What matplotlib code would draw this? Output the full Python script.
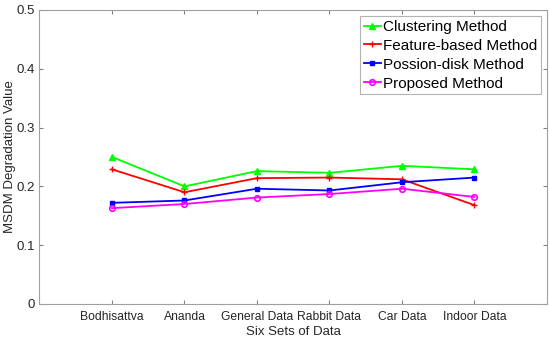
import numpy as np
import matplotlib
matplotlib.use('Agg')
import matplotlib.pyplot as plt

plt.rcParams['font.family'] = ['Liberation Sans', 'DejaVu Sans']

# data
datasets = ['Bodhisattva', 'Ananda', 'General Data', 'Rabbit Data', 'Car Data', 'Indoor Data']
clustering = [0.250, 0.200, 0.226, 0.223, 0.235, 0.229]
feature_based = [0.229, 0.190, 0.214, 0.215, 0.212, 0.168]
possion_disk = [0.172, 0.176, 0.196, 0.193, 0.207, 0.215]
proposed = [0.163, 0.170, 0.181, 0.187, 0.196, 0.182]

x = np.arange(1, len(datasets) + 1)

fig = plt.figure(figsize=(5.5, 3.4), dpi=100)
ax = fig.add_axes([0.0718, 0.106, 0.9227, 0.8646])

ax.plot(x, clustering, color='#00ff00', marker='^', markersize=5, linewidth=1.3, label='Clustering Method')
ax.plot(x, feature_based, color='#ff0000', marker='+', markersize=5, linewidth=1.3, label='Feature-based Method')
ax.plot(x, possion_disk, color='#0000ff', marker='s', markersize=3.5, linewidth=1.3, label='Possion-disk Method')
ax.plot(x, proposed, color='#ff00ff', marker='o', markersize=4, markerfacecolor='none',
        markeredgewidth=1.2, linewidth=1.3, label='Proposed Method')

ax.set_xlim(0, 7)
ax.set_ylim(0, 0.5)
ax.set_xticks(x)
ax.set_xticklabels(datasets, fontsize=8.7, color='#262626')
ax.set_yticks([0, 0.1, 0.2, 0.3, 0.4, 0.5])
ax.set_yticklabels(['0', '0.1', '0.2', '0.3', '0.4', '0.5'], fontsize=9.5, color='#262626')
ax.tick_params(direction='in', length=3, color='#808080', top=True, right=True)
ax.tick_params(axis='x', pad=5)
ax.tick_params(axis='y', pad=3)
for s in ax.spines.values():
    s.set_color('#a0a0a0')
    s.set_linewidth(0.8)

ax.set_xlabel('Six Sets of Data', fontsize=9.5, color='#262626', labelpad=2)
ax.set_ylabel('MSDM Degradation Value', fontsize=9.5, color='#262626')
ax.yaxis.set_label_coords(-0.046, 0.5)

leg = ax.legend(loc='upper right', fontsize=11, frameon=True, fancybox=False,
                handlelength=1.1, handletextpad=0.15, borderpad=0.25, labelspacing=0.32,
                borderaxespad=0.4, edgecolor='#a0a0a0')
leg.get_frame().set_linewidth(0.8)

fig.savefig('out.png', dpi=100)
